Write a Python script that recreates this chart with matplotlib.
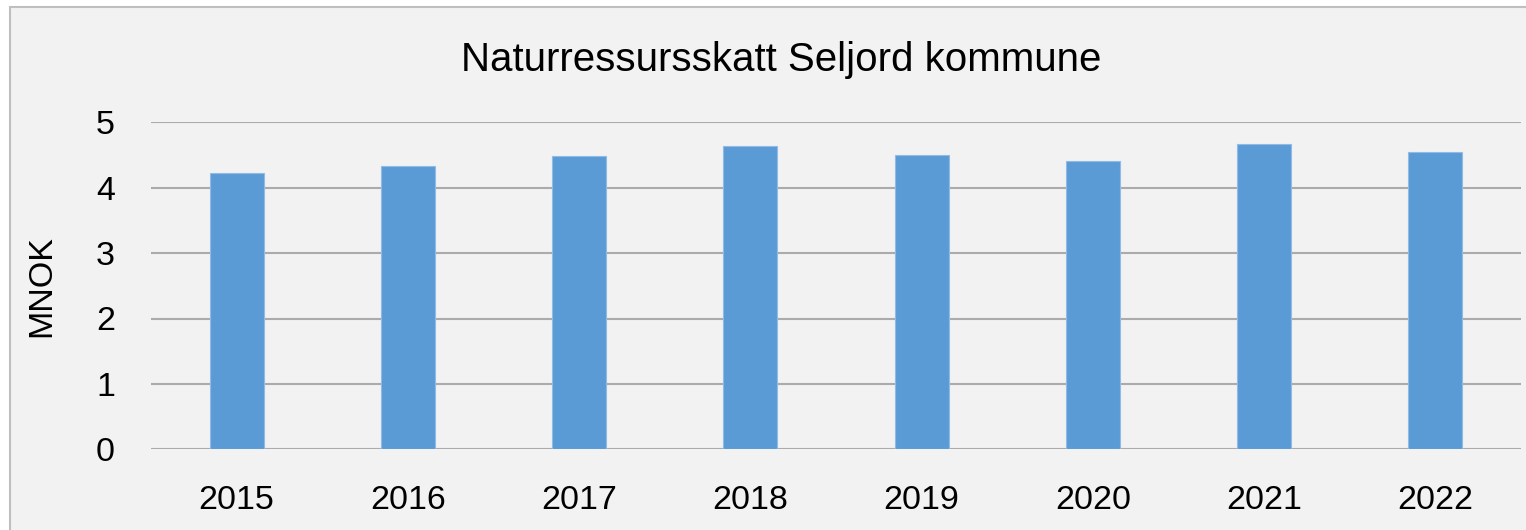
import matplotlib.pyplot as plt
from matplotlib.patches import Rectangle

years = ["2015", "2016", "2017", "2018", "2019", "2020", "2021", "2022"]
mnok = [4.22, 4.33, 4.48, 4.63, 4.50, 4.41, 4.67, 4.54]

plt.rcParams['font.family'] = ['Liberation Sans', 'DejaVu Sans']

fig = plt.figure(figsize=(15.26, 5.3), dpi=100)
fig.patch.set_facecolor('white')

# grå bakgrunn med tynn ramme (som Excel-diagramområdet)
fig.patches.append(Rectangle((10 / 1526, -0.05), 1.1, 1 - 7 / 530 + 0.05,
                             transform=fig.transFigure, facecolor='#f2f2f2',
                             edgecolor='#bfbfbf', linewidth=1.5, zorder=-10))

ax = fig.add_axes([151 / 1526, 1 - 449.3 / 530, (1521 - 151) / 1526, (449.3 - 122.3) / 530])
ax.set_facecolor('none')

x = range(len(years))
ax.bar(x, mnok, width=0.315, color='#5b9bd5', edgecolor='#8fbbe5', linewidth=0.8, zorder=3)

ax.set_xlim(-0.5, len(years) - 0.5)
ax.set_ylim(0, 5)
ax.set_yticks(range(6))
ax.set_xticks(list(x))
ax.set_xticklabels(years)
ax.yaxis.grid(True, color='#ababab', linewidth=1.5, zorder=0)
for s in ax.spines.values():
    s.set_visible(False)
ax.tick_params(axis='both', length=0, labelsize=24.5)
ax.tick_params(axis='y', pad=26)
ax.tick_params(axis='x', pad=26)

ax.set_ylabel("MNOK", fontsize=24.5, labelpad=28)
fig.text(0.512, 1 - 60 / 530, "Naturressursskatt Seljord kommune",
         fontsize=29, ha='center', va='center')

fig.savefig("out.png", dpi=100)
